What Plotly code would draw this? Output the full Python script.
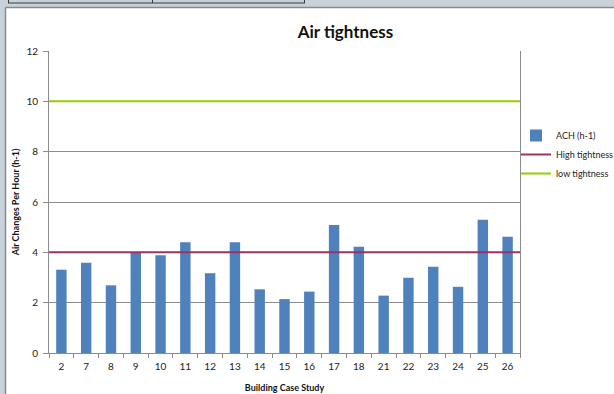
import plotly.graph_objects as go

# Building case studies and measured air change rates
cases = ["2", "7", "8", "9", "10", "11", "12", "13", "14", "15",
         "16", "17", "18", "21", "22", "23", "24", "25", "26"]
ach = [3.31, 3.59, 2.69, 3.99, 3.88, 4.40, 3.17, 4.40, 2.53, 2.14,
       2.44, 5.09, 4.22, 2.28, 2.99, 3.43, 2.63, 5.29, 4.62]

# Reference thresholds
high_tightness = 4
low_tightness = 10

y_ticks = [0, 2, 4, 6, 8, 10, 12]

W, H = 614, 394
L, R, T, B = 49, 520, 51, 353


def px(x):
    return (x - L) / (R - L)


def py(y):
    return (B - y) / (B - T)


FONT = "Lato"
GRID = "#8c8c8c"

fig = go.Figure()

fig.add_trace(go.Bar(
    x=cases, y=ach, name="ACH (h-1)",
    marker=dict(color="#4f81bd", line=dict(width=0)),
))
fig.add_trace(go.Scatter(
    x=[0, 1], y=[high_tightness, high_tightness], xaxis="x2",
    mode="lines", name="High tightness",
    line=dict(color="#993366", width=2),
))
fig.add_trace(go.Scatter(
    x=[0, 1], y=[low_tightness, low_tightness], xaxis="x2",
    mode="lines", name="low tightness",
    line=dict(color="#99cc00", width=2),
))

shapes = [
    # white chart sheet over the grey window background
    dict(type="rect", xref="paper", yref="paper", layer="below",
         x0=px(6), x1=px(W + 5), y0=py(8), y1=py(H + 5),
         fillcolor="white", line=dict(width=0)),
    dict(type="line", xref="paper", yref="paper", layer="below",
         x0=px(5.5), x1=px(W + 5), y0=py(7.5), y1=py(7.5),
         line=dict(color="#8a8a8a", width=1.5)),
    dict(type="line", xref="paper", yref="paper", layer="below",
         x0=px(5.5), x1=px(5.5), y0=py(7.5), y1=py(H + 5),
         line=dict(color="#8a8a8a", width=1.5)),
    # strip of a table above the chart
    dict(type="line", xref="paper", yref="paper", layer="below",
         x0=px(8), x1=px(305), y0=py(3), y1=py(3),
         line=dict(color="#3a3a3a", width=1.2)),
    dict(type="line", xref="paper", yref="paper", layer="below",
         x0=px(8.5), x1=px(8.5), y0=py(-2), y1=py(3),
         line=dict(color="#3a3a3a", width=1)),
    dict(type="line", xref="paper", yref="paper", layer="below",
         x0=px(152.5), x1=px(152.5), y0=py(-2), y1=py(3),
         line=dict(color="#3a3a3a", width=1)),
    dict(type="line", xref="paper", yref="paper", layer="below",
         x0=px(304.5), x1=px(304.5), y0=py(-2), y1=py(3),
         line=dict(color="#3a3a3a", width=1)),
]

fig.update_layout(
    width=W, height=H,
    margin=dict(l=L, r=W - R, t=T, b=H - B, pad=0, autoexpand=False),
    paper_bgcolor="#c8d2da",
    plot_bgcolor="white",
    font=dict(family=FONT, size=10, color="#222222"),
    title=dict(text="<b>Air tightness</b>", x=px(314), xanchor="center",
               y=1 - 32 / H, yanchor="middle",
               font=dict(family=FONT, size=17, color="#111111")),
    bargap=0.58,
    showlegend=True,
    legend=dict(xref="container", yref="container",
                x=516 / W, y=1 - 121 / H, xanchor="left", yanchor="top",
                bgcolor="rgba(0,0,0,0)", borderwidth=0,
                font=dict(family=FONT, size=9, color="#222222"),
                itemwidth=30, tracegroupgap=0),
    shapes=shapes,
    xaxis=dict(
        type="category", categoryorder="array", categoryarray=cases,
        showgrid=False, showline=True, linecolor=GRID, linewidth=1,
        ticks="outside", ticklen=4, tickcolor=GRID, tickson="boundaries",
        tickfont=dict(family=FONT, size=10, color="#222222"),
        ticklabelstandoff=4,
        title=dict(text="<b>Building Case Study</b>", standoff=13,
                   font=dict(family=FONT, size=9, color="#111111")),
        zeroline=False,
    ),
    xaxis2=dict(overlaying="x", range=[0, 1], visible=False,
                fixedrange=True),
    yaxis=dict(
        range=[0, 12], tickvals=y_ticks, ticktext=[str(v) for v in y_ticks],
        showgrid=True, gridcolor=GRID, gridwidth=1,
        showline=True, linecolor=GRID, linewidth=1, mirror=True,
        ticks="outside", ticklen=5, tickcolor=GRID,
        tickfont=dict(family=FONT, size=10, color="#222222"),
        ticklabelstandoff=3,
        title=dict(text="<b>Air Changes Per Hour (h-1)</b>", standoff=5,
                   font=dict(family=FONT, size=9, color="#111111")),
        zeroline=False,
    ),
)

fig.write_html("out.html")
